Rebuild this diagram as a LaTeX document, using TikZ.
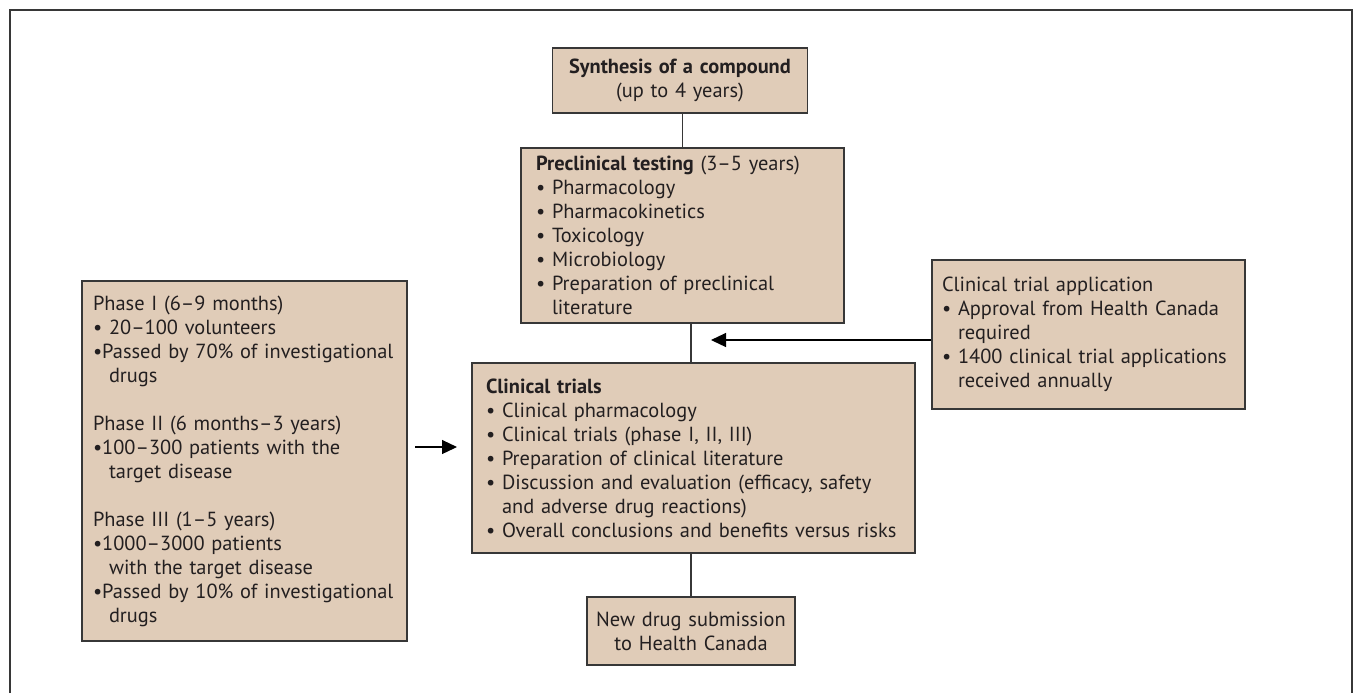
\documentclass[tikz,border=0pt]{standalone}
\usepackage{fontspec}
\setmainfont{PT Sans}
\usetikzlibrary{arrows.meta}
\definecolor{boxfill}{RGB}{224,204,184}
\definecolor{boxline}{RGB}{55,55,55}
\definecolor{inktext}{RGB}{35,31,32}
\newcommand{\hang}{\hphantom{\textbullet\ }}

\begin{document}
\begin{tikzpicture}[x=0.5pt, y=-0.5pt,
	stage/.style={draw=boxline, line width=0.8pt, fill=boxfill, text=inktext, inner xsep=7.5pt, inner ysep=0pt, align=left, font=\fontsize{10.2}{12}\selectfont},
	link/.style={draw=boxline, line width=0.6pt},
	feed/.style={draw=black, line width=0.6pt, -{Triangle[length=7.5pt,width=7pt]}}]
	\useasboundingbox (0,0) rectangle (1354,693);
	\draw[line width=0.9pt, boxline] (10,693) -- (10,10) -- (1352,10) -- (1352,693);
	\node[stage, align=center, inner xsep=5pt, text width=117.5pt, minimum height=32.5pt] (synth) at (680,80.5) {\textbf{Synthesis of a compound}\\(up to 4 years)};
	\node[stage, text width=146.5pt, minimum height=87.5pt] (precl) at (682.5,235.5) {\textbf{Preclinical testing} (3--5 years)\\\textbullet\ Pharmacology\\\textbullet\ Pharmacokinetics\\\textbullet\ Toxicology\\\textbullet\ Microbiology\\\textbullet\ Preparation of preclinical\\\hang literature};
	\node[stage, inner xsep=7pt, text width=207.5pt, minimum height=95pt] (clin) at (693.5,458) {\textbf{Clinical trials}\\\textbullet\ Clinical pharmacology\\\textbullet\ Clinical trials (phase I, II, III)\\\textbullet\ Preparation of clinical literature\\\textbullet\ Discussion and evaluation (efficacy, safety\\\hang and adverse drug reactions)\\\textbullet\ Overall conclusions and benefits versus risks};
	\node[stage, align=center, inner xsep=3pt, text width=98pt, minimum height=34pt] (newdrug) at (691,631) {New drug submission\\to Health Canada};
	\node[stage, inner xsep=5pt, text width=146.5pt, minimum height=74.5pt] (cta) at (1088.5,334.5) {Clinical trial application\\\textbullet\ Approval from Health Canada\\\hang required\\\textbullet\ 1400 clinical trial applications\\\hang received annually};
	\node[stage, inner xsep=5.5pt, text width=151.5pt, minimum height=180pt] (phase) at (244.5,461) {Phase I (6--9 months)\\\textbullet\ 20--100 volunteers\\\textbullet Passed by 70\% of investigational\\\hang drugs\\[12pt]Phase II (6 months--3 years)\\\textbullet 100--300 patients with the\\\hang target disease\\[12pt]Phase III (1--5 years)\\\textbullet 1000--3000 patients\\\hang with the target disease\\\textbullet Passed by 10\% of investigational\\\hang drugs};
	\coordinate (ctatip) at (711,340);
	\coordinate (phtail) at (415,447);
	\coordinate (phtip) at (457,447);
	\draw[link] (precl.north) -- (precl.north |- synth.south);
	\draw[link] (newdrug.north |- precl.south) -- (newdrug.north |- clin.north);
	\draw[link] (newdrug.north |- clin.south) -- (newdrug.north);
	\draw[feed] (cta.west |- ctatip) -- (ctatip);
	\draw[feed] (phtail) -- (phtip);
\end{tikzpicture}
\end{document}
